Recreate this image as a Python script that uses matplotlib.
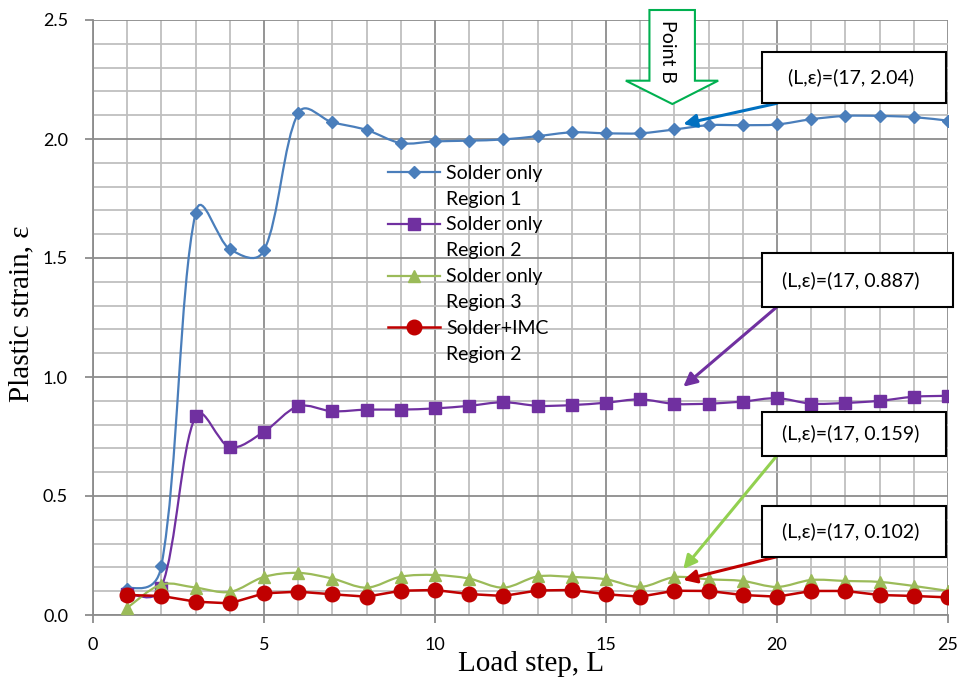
import numpy as np
import matplotlib
matplotlib.use("Agg")
import matplotlib.pyplot as plt
from matplotlib.path import Path
from matplotlib.patches import PathPatch, Rectangle, Polygon
from matplotlib.lines import Line2D
from matplotlib.ticker import MultipleLocator, FormatStrFormatter

plt.rcParams['font.family'] = ['Lato', 'DejaVu Sans']

# Load steps and plastic strain of each series
steps = np.arange(1, 26)
solder_r1 = [0.11, 0.207, 1.69, 1.537, 1.532, 2.108, 2.07, 2.038, 1.983, 1.99, 1.993, 1.998, 2.012,
             2.028, 2.024, 2.024, 2.04, 2.058, 2.058, 2.061, 2.083, 2.097, 2.097, 2.092, 2.077]
solder_r2 = [0.09, 0.115, 0.835, 0.705, 0.77, 0.877, 0.856, 0.863, 0.863, 0.868, 0.879, 0.894, 0.879,
             0.882, 0.892, 0.906, 0.887, 0.888, 0.897, 0.911, 0.888, 0.891, 0.900, 0.917, 0.921]
solder_r3 = [0.03, 0.128, 0.115, 0.097, 0.16, 0.177, 0.153, 0.115, 0.161, 0.168, 0.153, 0.115, 0.162,
             0.16, 0.15, 0.118, 0.159, 0.15, 0.143, 0.118, 0.147, 0.143, 0.139, 0.122, 0.101]
solder_imc = [0.084, 0.08, 0.056, 0.049, 0.091, 0.098, 0.087, 0.077, 0.102, 0.105, 0.088, 0.08, 0.103,
              0.105, 0.087, 0.077, 0.102, 0.101, 0.084, 0.077, 0.101, 0.101, 0.084, 0.08, 0.074]

names = [("Solder only", "Region 1"), ("Solder only", "Region 2"),
         ("Solder only", "Region 3"), ("Solder+IMC", "Region 2")]
callouts = ["(L,\u03b5)=(17, 2.04)", "(L,\u03b5)=(17, 0.887)",
            "(L,\u03b5)=(17, 0.159)", "(L,\u03b5)=(17, 0.102)"]


def smooth_path(ax, x, y):
    # Excel-like smoothed line: cubic Bezier through the points, the control
    # distances weighted by the on-screen length of the neighbouring segments
    pts = np.column_stack([x, y]).astype(float)
    disp = ax.transData.transform(pts)
    n = len(pts)
    seg = np.sqrt(np.hypot(*np.diff(disp, axis=0).T))
    verts = [pts[0]]
    codes = [Path.MOVETO]
    for i in range(n - 1):
        if i > 0:
            w = seg[i] / (seg[i - 1] + seg[i])
            c1 = pts[i] + (pts[i + 1] - pts[i - 1]) * w / 3
        else:
            c1 = pts[i] + (pts[i + 1] - pts[i]) / 6
        if i + 2 < n:
            w = seg[i] / (seg[i] + seg[i + 1])
            c2 = pts[i + 1] - (pts[i + 2] - pts[i]) * w / 3
        else:
            c2 = pts[i + 1] - (pts[i + 1] - pts[i]) / 6
        verts += [c1, c2, pts[i + 1]]
        codes += [Path.CURVE4] * 3
    return Path(verts, codes)


fig = plt.figure(figsize=(9.6, 6.8), dpi=100)
ax = fig.add_axes([93 / 960, 65 / 680, 855 / 960, 595 / 680])
ax.set_xlim(0, 25)
ax.set_ylim(0, 2.5)

styles = [
    dict(data=solder_r1, color='#4a7ebb', marker='D', ms=6, lw=1.6, smooth=True),
    dict(data=solder_r2, color='#7030a0', marker='s', ms=8, lw=1.6, smooth=True),
    dict(data=solder_r3, color='#9bbb59', marker='^', ms=8, lw=1.6, smooth=True),
    dict(data=solder_imc, color='#c00000', marker='o', ms=10.5, lw=1.8, smooth=False),
]

handles, labels = [], []
for k, st in enumerate(styles):
    z = 3 + k
    if st['smooth']:
        ax.add_patch(PathPatch(smooth_path(ax, steps, st['data']), fill=False,
                               edgecolor=st['color'], lw=st['lw'], zorder=z))
    else:
        ax.plot(steps, st['data'], color=st['color'], lw=st['lw'], zorder=z)
    ax.plot(steps, st['data'], ls='none', marker=st['marker'], ms=st['ms'],
            color=st['color'], mec=st['color'], zorder=z)
    handles.append(Line2D([], [], color=st['color'], lw=st['lw'], marker=st['marker'], ms=st['ms']))
    labels.append(names[k][0])
    handles.append(Line2D([], [], lw=0))
    labels.append(names[k][1])

ax.xaxis.set_major_locator(MultipleLocator(5))
ax.xaxis.set_minor_locator(MultipleLocator(1))
ax.yaxis.set_major_locator(MultipleLocator(0.5))
ax.yaxis.set_minor_locator(MultipleLocator(0.1))
ax.yaxis.set_major_formatter(FormatStrFormatter('%.1f'))

ax.grid(which='minor', color='#bfbfbf', lw=1.3)
ax.grid(which='major', color='#8c8c8c', lw=1.3)
ax.set_axisbelow(True)
ax.tick_params(which='minor', length=0)
ax.tick_params(which='major', length=6, width=1.3, color='#8c8c8c', labelsize=13)
ax.tick_params(axis='y', pad=12)
ax.tick_params(axis='x', pad=10)
for s in ['top', 'right']:
    ax.spines[s].set_visible(False)
for s in ['left', 'bottom']:
    ax.spines[s].set_color('#8c8c8c')
    ax.spines[s].set_linewidth(1.3)

ax.set_xlabel("Load step, L", family='Liberation Serif', fontsize=21)
ax.xaxis.set_label_coords(0.512, -0.061)
ax.set_ylabel("Plastic strain, \u03b5", family='Liberation Serif', fontsize=21)
ax.yaxis.set_label_coords(-0.068, 0.506)

leg = ax.legend(handles, labels, loc='upper left', bbox_to_anchor=(0.345, 0.757),
                frameon=False, fontsize=14, handlelength=2.7, handletextpad=0.3,
                labelspacing=0.46, borderpad=0, borderaxespad=0)
leg.set_zorder(10)

# callout boxes with arrows pointing at L = 17
box_specs = [(19.56, 2.150, 5.37, 0.217, 2.063, '#0070c0'),
             (19.56, 1.295, 5.59, 0.227, 0.959, '#7030a0'),
             (19.56, 0.670, 5.37, 0.184, 0.193, '#92d050'),
             (19.56, 0.245, 5.37, 0.214, 0.147, '#c00000')]
for txt, (bx, by, bw, bh, tip_y, col) in zip(callouts, box_specs):
    ax.add_patch(Rectangle((bx, by), bw, bh, facecolor='white', edgecolor='black',
                           lw=1.5, zorder=12, clip_on=False))
    ax.text(bx + 2.6, by + bh / 2, txt, ha='center', va='center', fontsize=14, zorder=13)
    ax.annotate("", xy=(17.26, tip_y), xytext=(20.0, by),
                arrowprops=dict(arrowstyle='-|>', color=col, lw=2.2, mutation_scale=20,
                                shrinkA=0, shrinkB=0), zorder=11)

# "Point B" block arrow
arrow_pts = [(16.27, 2.542), (17.60, 2.542), (17.60, 2.245), (18.28, 2.245),
             (16.94, 2.147), (15.58, 2.245), (16.27, 2.245)]
ax.add_patch(Polygon(arrow_pts, closed=True, facecolor='white', edgecolor='#00b050',
                     lw=1.5, zorder=12, clip_on=False))
ax.text(16.81, 2.37, "Point B", rotation=270, ha='center', va='center', fontsize=14, zorder=13)

fig.savefig("out.png", dpi=100)
